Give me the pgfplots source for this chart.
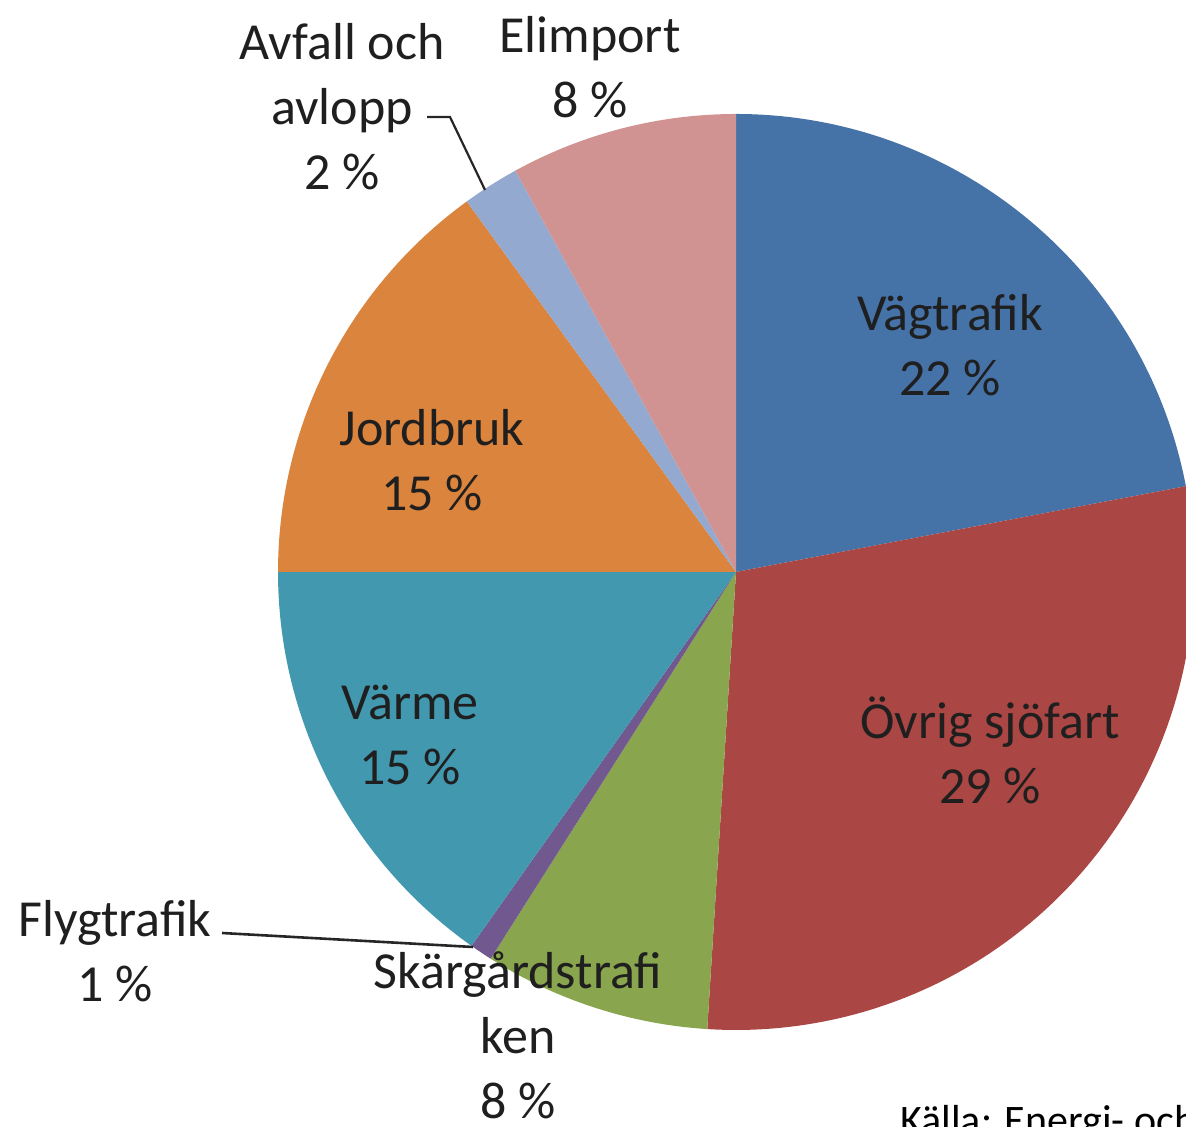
\documentclass[border=0pt]{standalone}
\usepackage{pgfplots}
\pgfplotsset{compat=1.18}
\usepackage{fontspec}
\setmainfont{Carlito}
\definecolor{cvag}{HTML}{4572A7}
\definecolor{covr}{HTML}{AA4643}
\definecolor{cska}{HTML}{89A54E}
\definecolor{cfly}{HTML}{71588F}
\definecolor{cvar}{HTML}{4198AF}
\definecolor{cjor}{HTML}{DB843D}
\definecolor{cavf}{HTML}{93A9CF}
\definecolor{celi}{HTML}{D19392}
\begin{document}
\begin{tikzpicture}
\begin{axis}[
  width=593pt, height=563.5pt, scale only axis,
  xmin=0, xmax=1186, ymin=0, ymax=1127,
  hide axis, clip=true,
]
\coordinate (SW) at (axis cs:0,0);
\coordinate (NE) at (axis cs:1186,1127);
\xdef\curang{90}
\foreach \v/\c in {22/cvag, 29/covr, 8/cska, 0.8/cfly, 15.2/cvar, 15/cjor, 2/cavf, 8/celi} {
  \pgfmathsetmacro\endang{\curang-3.6*\v}
  \edef\temp{\noexpand\fill[\c] (axis cs:736,555) -- ++(\curang:229pt) arc[start angle=\curang, end angle=\endang, radius=229pt] -- cycle;}
  \temp
  \xdef\curang{\endang}
}
\tikzset{lab/.style={align=center, text=black!88, font=\fontsize{26}{32.5}\selectfont, inner sep=0pt}}
\node[lab] at (axis cs:950,782) {Vägtrafik\\22 \%};
\node[lab] at (axis cs:990,377) {Övrig sjöfart\\29 \%};
\node[lab] at (axis cs:518,92) {Skärgårdstrafi\\ken\\8 \%};
\node[lab] at (axis cs:115,176) {Flygtrafik\\1 \%};
\node[lab] at (axis cs:410,392) {Värme\\15 \%};
\node[lab] at (axis cs:432,667) {Jordbruk\\15 \%};
\node[lab] at (axis cs:342,1020) {Avfall och\\avlopp\\2 \%};
\node[lab] at (axis cs:590,1060) {Elimport\\8 \%};
\draw[black!85, line width=1.1pt] (axis cs:427,1010) -- (axis cs:450,1010) -- (axis cs:485,937);
\draw[black!85, line width=1.3pt] (axis cs:222,194) -- (axis cs:473,180);
\end{axis}
\node[anchor=base west, text=black, font=\fontsize{21}{25}\selectfont, inner sep=0pt] at ([xshift=450pt, yshift=-4pt]SW) {Källa: Energi- och klimatrådgivningen};
\pgfresetboundingbox
\useasboundingbox (SW) rectangle (NE);
\end{tikzpicture}
\end{document}
